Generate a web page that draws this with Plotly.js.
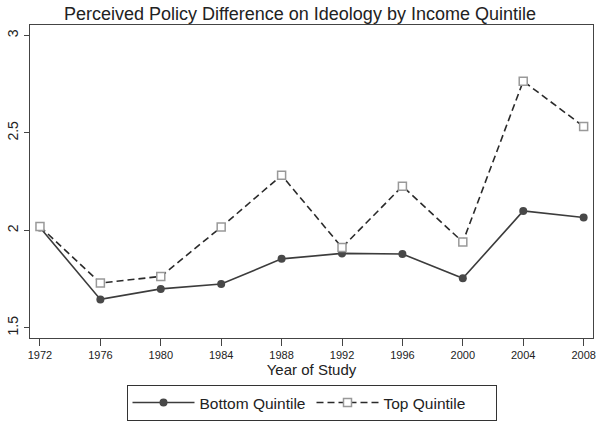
<!DOCTYPE html>
<html>
<head>
<meta charset="utf-8">
<script src="https://cdn.plot.ly/plotly-3.0.1.min.js"></script>
<style>html,body{margin:0;padding:0;background:#fff;}#chart{width:600px;height:428px;}</style>
</head>
<body>
<div id="chart"></div>
<script>
var years = [1972, 1976, 1980, 1984, 1988, 1992, 1996, 2000, 2004, 2008];
var bottomQuintile = [2.015, 1.646, 1.70, 1.725, 1.854, 1.882, 1.879, 1.754, 2.10, 2.066];
var topQuintile = [2.02, 1.73, 1.764, 2.017, 2.283, 1.912, 2.227, 1.94, 2.766, 2.533];
var yTicks = [1.5, 2, 2.5, 3];
var yTickLabels = ['1.5', '2', '2.5', '3'];

var fontFam = 'Liberation Sans, Arial, Helvetica, sans-serif';

var traces = [
  {
    x: years, y: bottomQuintile, name: 'Bottom Quintile', type: 'scatter', mode: 'lines+markers',
    line: {color: '#3c3c3c', width: 1.6},
    marker: {symbol: 'circle', size: 8, color: '#484848'}
  },
  {
    x: years, y: topQuintile, name: 'Top Quintile', type: 'scatter', mode: 'lines+markers',
    line: {color: '#2a2a2a', width: 1.6, dash: '7px,4px'},
    marker: {symbol: 'square', size: 8, color: '#ffffff', line: {color: '#999999', width: 1.5}}
  }
];

var layout = {
  width: 600, height: 428,
  margin: {l: 30, r: 7, t: 25, b: 86},
  paper_bgcolor: '#ffffff', plot_bgcolor: '#ffffff',
  font: {family: fontFam, color: '#222222'},
  title: {text: 'Perceived Policy Difference on Ideology by Income Quintile',
          font: {size: 18, family: fontFam, color: '#222'}, x: 0.5, xanchor: 'center', y: 0.968, yanchor: 'middle'},
  xaxis: {
    range: [1971.34, 2008.62], tickvals: years, ticktext: years.map(String),
    ticks: 'outside', ticklen: 7, tickcolor: '#444', tickwidth: 1,
    tickfont: {size: 11, family: fontFam, color: '#222'},
    showgrid: false, zeroline: false, showline: true, linecolor: '#444', linewidth: 1.2, mirror: true,
    title: {text: 'Year of Study', font: {size: 15, family: fontFam, color: '#222'}, standoff: 2}
  },
  yaxis: {
    range: [1.448, 3.054], tickvals: yTicks, ticktext: yTickLabels,
    ticks: 'outside', ticklen: 5, tickcolor: '#444', tickwidth: 1, tickangle: -90,
    tickfont: {size: 14, family: fontFam, color: '#222'},
    showgrid: false, zeroline: false, showline: true, linecolor: '#444', linewidth: 1.2, mirror: true
  },
  showlegend: true,
  legend: {
    orientation: 'h', x: 0.5, xanchor: 'center', y: -0.15, yanchor: 'top',
    bordercolor: '#333', borderwidth: 1, bgcolor: '#fff',
    font: {size: 15.5, family: fontFam, color: '#222'},
    itemwidth: 62, entrywidth: 107, entrywidthmode: 'pixels'
  }
};

Plotly.newPlot('chart', traces, layout, {displayModeBar: false, staticPlot: true});
</script>
</body>
</html>
